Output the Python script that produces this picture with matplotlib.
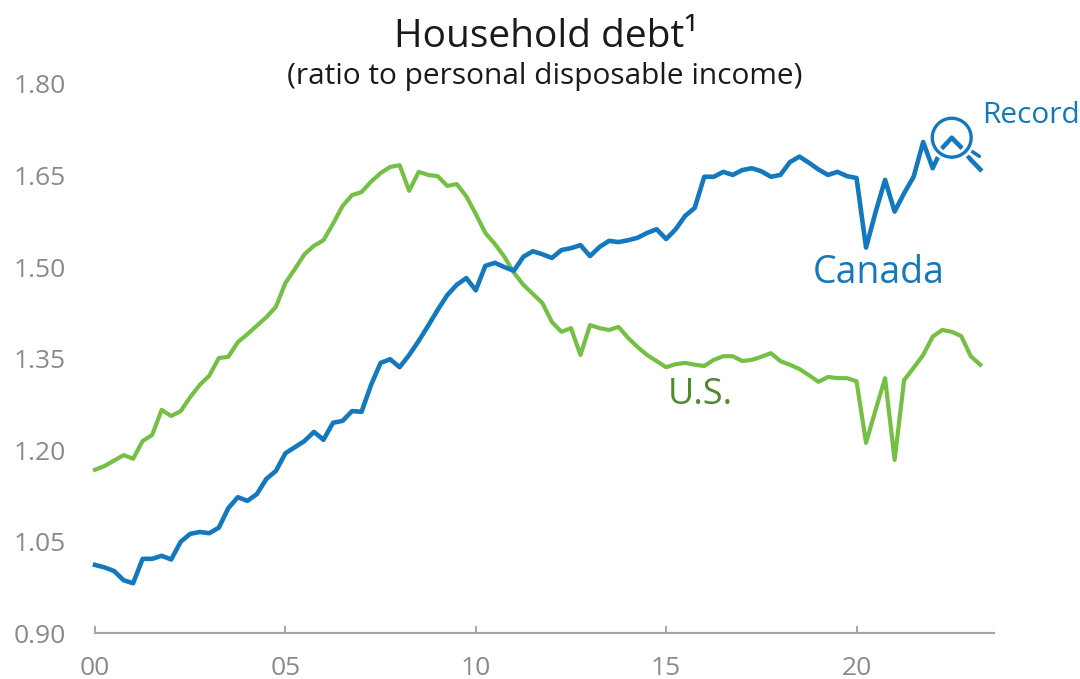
import matplotlib
matplotlib.use("Agg")
import matplotlib.pyplot as plt
import matplotlib.patheffects as pe
import numpy as np

plt.rcParams["font.family"] = ["Open Sans", "DejaVu Sans"]

# Quarterly observations, 2000Q1 onward
start_year = 2000.0
canada = [
    1.012, 1.008, 1.002, 0.987, 0.982, 1.022, 1.022, 1.027, 1.021, 1.050,
    1.063, 1.066, 1.064, 1.073, 1.105, 1.123, 1.117, 1.128, 1.153, 1.166,
    1.195, 1.205, 1.215, 1.230, 1.217, 1.245, 1.248, 1.264, 1.263, 1.307,
    1.343, 1.349, 1.336, 1.356, 1.379, 1.404, 1.430, 1.454, 1.471, 1.482,
    1.462, 1.502, 1.507, 1.500, 1.494, 1.517, 1.526, 1.521, 1.515, 1.528,
    1.531, 1.536, 1.518, 1.533, 1.543, 1.541, 1.544, 1.548, 1.556, 1.562,
    1.546, 1.562, 1.584, 1.597, 1.648, 1.648, 1.656, 1.651, 1.659, 1.662,
    1.657, 1.648, 1.651, 1.672, 1.681, 1.671, 1.660, 1.651, 1.656, 1.649,
    1.646, 1.532, 1.590, 1.643, 1.591, 1.621, 1.648, 1.705, 1.662, 1.695,
    1.712, 1.696, 1.676, 1.660,
]
united_states = [
    1.168, 1.174, 1.183, 1.192, 1.186, 1.215, 1.225, 1.266, 1.256, 1.264,
    1.287, 1.307, 1.322, 1.351, 1.353, 1.377, 1.390, 1.404, 1.418, 1.435,
    1.474, 1.497, 1.521, 1.535, 1.544, 1.571, 1.600, 1.618, 1.623, 1.640,
    1.654, 1.664, 1.667, 1.625, 1.656, 1.651, 1.649, 1.633, 1.636, 1.616,
    1.587, 1.556, 1.538, 1.517, 1.491, 1.471, 1.456, 1.441, 1.410, 1.394,
    1.400, 1.356, 1.405, 1.400, 1.397, 1.402, 1.384, 1.369, 1.356, 1.346,
    1.336, 1.341, 1.343, 1.340, 1.338, 1.348, 1.354, 1.354, 1.346, 1.348,
    1.353, 1.359, 1.346, 1.340, 1.333, 1.323, 1.312, 1.320, 1.318, 1.318,
    1.313, 1.212, 1.266, 1.318, 1.184, 1.315, 1.335, 1.356, 1.386, 1.397,
    1.394, 1.387, 1.354, 1.340,
]
y_ticks = [0.90, 1.05, 1.20, 1.35, 1.50, 1.65, 1.80]
x_ticks = [2000, 2005, 2010, 2015, 2020]
x_tick_labels = ["00", "05", "10", "15", "20"]

BLUE = "#1478be"
GREEN = "#74c044"
GREEN_TEXT = "#4f8a30"
GREY = "#8a8a8a"
AXIS_GREY = "#a6a6a6"

dates_ca = start_year + np.arange(len(canada)) / 4.0
dates_us = start_year + np.arange(len(united_states)) / 4.0

fig = plt.figure(figsize=(10.8, 6.79), dpi=100)
ax = fig.add_axes([0.088, 0.0673, 0.832, 0.809])

ax.plot(dates_us, united_states, color=GREEN, lw=3.0, solid_joinstyle="round", zorder=3)
ax.plot(dates_ca, canada, color=BLUE, lw=3.3, solid_joinstyle="round", zorder=4)

ax.set_xlim(2000.0, 2023.6)
ax.set_ylim(0.90, 1.80)

for side in ("top", "right", "left"):
    ax.spines[side].set_visible(False)
ax.spines["bottom"].set_color(AXIS_GREY)
ax.spines["bottom"].set_linewidth(1.6)

ax.set_yticks(y_ticks)
ax.set_yticklabels([f"{v:.2f}" for v in y_ticks])
ax.tick_params(axis="y", length=0, pad=21, labelsize=19, labelcolor=GREY)
ax.set_xticks(x_ticks)
ax.set_xticklabels(x_tick_labels)
ax.tick_params(axis="x", direction="in", length=5, width=1.4, color=AXIS_GREY,
               pad=16, labelsize=19, labelcolor=GREY)

# Highlight the record high with a magnifying-glass marker
rec_i = int(np.argmax(canada))
rec_x, rec_y = dates_ca[rec_i], canada[rec_i]
halo = [pe.withStroke(linewidth=6.5, foreground="white")]
ax.plot([rec_x], [rec_y], marker="o", markersize=28, markerfacecolor="none",
        markeredgecolor=BLUE, markeredgewidth=2.4, zorder=6, path_effects=halo)
ang = np.deg2rad(-34)
ax.annotate("", xy=(rec_x, rec_y), xytext=(24 * np.cos(ang), 24 * np.sin(ang)),
            textcoords="offset points",
            arrowprops=dict(arrowstyle="-", color=BLUE, lw=2.5, shrinkA=0, shrinkB=14,
                            path_effects=[pe.withStroke(linewidth=6.5, foreground="white")]),
            zorder=5)

ax.text(2020.58, 1.490, "Canada", color=BLUE, fontsize=27, ha="center", va="center")
ax.text(2015.9, 1.290, "U.S.", color=GREEN_TEXT, fontsize=26, ha="center", va="center")
ax.text(2023.3, 1.749, "Record", color=BLUE, fontsize=21.5, ha="left", va="center",
        clip_on=False)

fig.text(0.5056, 0.946, "Household debt\u00b9", fontsize=28, color="#1a1a1a",
         ha="center", va="center")
fig.text(0.5046, 0.887, "(ratio to personal disposable income)", fontsize=21.5,
         color="#1a1a1a", ha="center", va="center")

for line in ax.lines:
    line.set_clip_on(False)

fig.savefig("out.png", dpi=100)
